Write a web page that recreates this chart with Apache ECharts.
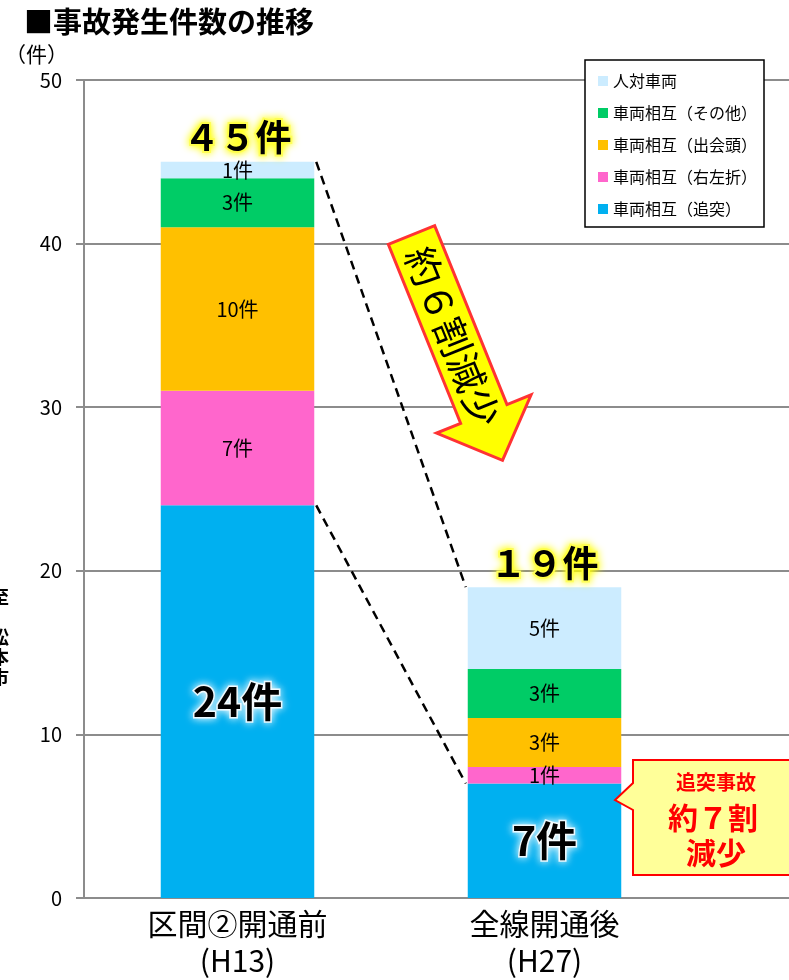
<!DOCTYPE html>
<html><head><meta charset="utf-8">
<script src="https://cdn.jsdelivr.net/npm/echarts@6/dist/echarts.min.js"></script>
<style>html,body{margin:0;padding:0;background:#fff}#c{width:789px;height:980px}</style>
</head><body><div id="c"></div>
<script>
const categories = ['区間②開通前\n(H13)', '全線開通後\n(H27)'];
const seriesNames = ['車両相互（追突）', '車両相互（右左折）', '車両相互（出会頭）', '車両相互（その他）', '人対車両'];
const rearEnd = [24, 7];
const rightLeft = [7, 1];
const headOn = [10, 3];
const otherVeh = [3, 3];
const pedestrian = [1, 5];
const yTicks = [0, 10, 20, 30, 40, 50];

const FONT = 'Noto Sans CJK JP';
const colors = ['#00B0F0', '#FF66CC', '#FFC000', '#00CC66', '#CCECFF'];
const seriesData = [rearEnd, rightLeft, headOn, otherVeh, pedestrian];
const totals = categories.map((_, i) => seriesData.reduce((s, arr) => s + arr[i], 0));
const toFull = s => String(s).replace(/[0-9]/g, d => String.fromCharCode(d.charCodeAt(0) + 0xFEE0));

const chart = echarts.init(document.getElementById('c'), null, { renderer: 'canvas' });

const series = seriesData.map((arr, k) => ({
  name: seriesNames[k],
  type: 'bar',
  stack: 'all',
  barWidth: '50%',
  data: arr,
  itemStyle: { color: colors[k] },
  label: k === 0 ? {
    show: true, position: 'inside', formatter: '{c}件',
    fontFamily: FONT, fontSize: 41, fontWeight: 'bold', color: '#000',
    textBorderColor: 'rgba(255,255,255,0.85)', textBorderWidth: 3,
    textShadowColor: '#ffffff', textShadowBlur: 8
  } : {
    show: true, position: 'inside', formatter: '{c}件',
    fontFamily: FONT, fontSize: 20, color: '#000'
  }
}));
series.push({
  name: '合計', type: 'bar', stack: 'all', barWidth: '50%',
  data: totals.map(() => 0), itemStyle: { color: 'transparent' },
  label: {
    show: true, position: 'top', distance: 6,
    formatter: p => toFull(totals[p.dataIndex]) + '件',
    fontFamily: FONT, fontSize: 36, fontWeight: 'bold', color: '#000',
    textBorderColor: '#FFFF66', textBorderWidth: 4,
    textShadowColor: '#FFFF00', textShadowBlur: 8
  }
});

const option = {
  animation: false,
  backgroundColor: '#fff',
  textStyle: { fontFamily: FONT },
  title: {
    text: '■事故発生件数の推移', left: 19, top: 2,
    textStyle: { fontFamily: FONT, fontSize: 29, fontWeight: 'bold', color: '#000' }
  },
  legend: {
    orient: 'vertical', left: 585, top: 60,
    data: seriesNames.slice().reverse(),
    itemWidth: 10, itemHeight: 10, itemGap: 16,
    icon: 'rect',
    padding: [13, 7, 10, 13],
    borderColor: '#000', borderWidth: 1.5, backgroundColor: '#fff',
    textStyle: { fontFamily: FONT, fontSize: 16, color: '#000' }
  },
  grid: { left: 84, top: 80, width: 921, height: 818, outerBoundsMode: 'none', containLabel: false },
  xAxis: {
    type: 'category',
    data: categories.concat(['']),
    axisTick: { show: false },
    axisLine: { lineStyle: { color: '#8c8c8c', width: 2 } },
    axisLabel: { fontFamily: FONT, fontSize: 30, color: '#000', lineHeight: 37, margin: 7 }
  },
  yAxis: {
    type: 'value', min: yTicks[0], max: yTicks[yTicks.length - 1], interval: yTicks[1] - yTicks[0],
    axisLine: { show: true, lineStyle: { color: '#8c8c8c', width: 2 } },
    axisTick: { show: true, length: 8, lineStyle: { color: '#8c8c8c', width: 2 } },
    splitLine: { lineStyle: { color: '#8c8c8c', width: 2 } },
    axisLabel: { fontFamily: FONT, fontSize: 20, color: '#000', margin: 22 }
  },
  series: series
};
chart.setOption(option);

// annotation positions derived from the library's scales
const p0 = chart.convertToPixel({ xAxisIndex: 0, yAxisIndex: 0 }, [0, totals[0]]);
const p1 = chart.convertToPixel({ xAxisIndex: 0, yAxisIndex: 0 }, [1, totals[1]]);
const band = p1[0] - p0[0];
const halfW = band * 0.25;
const q0 = chart.convertToPixel({ xAxisIndex: 0, yAxisIndex: 0 }, [0, rearEnd[0]]);
const q1 = chart.convertToPixel({ xAxisIndex: 0, yAxisIndex: 0 }, [1, rearEnd[1]]);
const dash = { stroke: '#000', lineWidth: 2.5, lineDash: [9, 6] };

chart.setOption({
  graphic: [
    { type: 'text', left: 5, top: 44, style: { text: '（件）', fontFamily: FONT, fontSize: 21, fill: '#000' } },
    { type: 'text', x: -9, y: 587, style: { text: '至\n\n松\n本\n市', fontFamily: FONT, fontSize: 18, fontWeight: 'bold', lineHeight: 20, fill: '#000' } },
    { type: 'line', z: 50, shape: { x1: p0[0] + halfW + 2, y1: p0[1], x2: p1[0] - halfW - 2, y2: p1[1] }, style: dash },
    { type: 'line', z: 50, shape: { x1: q0[0] + halfW + 2, y1: q0[1], x2: q1[0] - halfW - 2, y2: q1[1] }, style: dash },
    {
      type: 'group', x: 411.5, y: 235, rotation: 22 * Math.PI / 180, z: 60,
      children: [
        { type: 'polygon', shape: { points: [[-25, 0], [25, 0], [25, 193], [51, 193], [0, 243], [-51, 193], [-25, 193]] },
          style: { fill: '#FFFF00', stroke: '#FF3333', lineWidth: 3 } },
        { type: 'text', x: 0, y: 110, rotation: -Math.PI / 2,
          style: { text: '約６割減少', fontFamily: FONT, fontSize: 38, fill: '#000', align: 'center', verticalAlign: 'middle' } }
      ]
    },
    {
      type: 'polygon', z: 60,
      shape: { points: [[633, 760], [800, 760], [800, 875], [633, 875], [633, 810], [615, 800], [633, 783]] },
      style: { fill: '#FFFF99', stroke: '#FF0000', lineWidth: 2 }
    },
    { type: 'text', z: 61, x: 716, y: 782, style: { text: '追突事故', fontFamily: FONT, fontSize: 20, fontWeight: 'bold', fill: '#FF0000', align: 'center', verticalAlign: 'middle' } },
    { type: 'text', z: 61, x: 713, y: 818, style: { text: '約７割', fontFamily: FONT, fontSize: 30, fontWeight: 'bold', fill: '#FF0000', align: 'center', verticalAlign: 'middle' } },
    { type: 'text', z: 61, x: 716, y: 853, style: { text: '減少', fontFamily: FONT, fontSize: 30, fontWeight: 'bold', fill: '#FF0000', align: 'center', verticalAlign: 'middle' } }
  ]
});
</script></body></html>
